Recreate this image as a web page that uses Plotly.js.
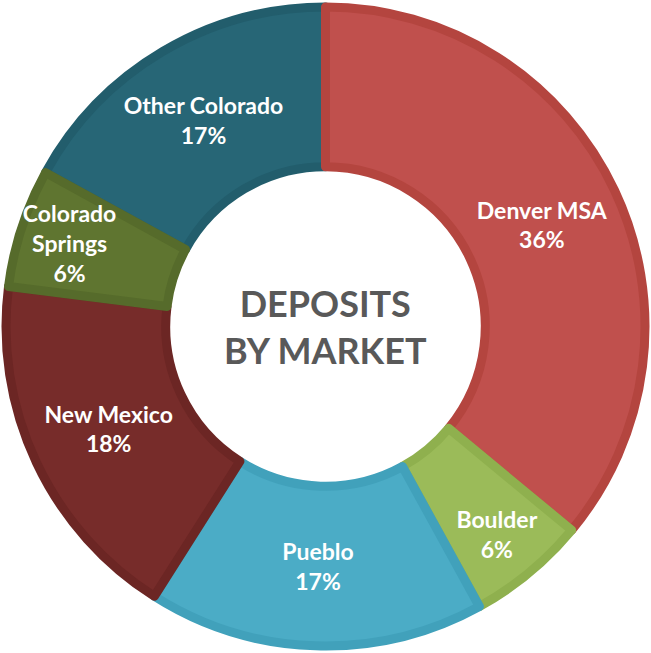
<!DOCTYPE html>
<html>
<head>
<meta charset="utf-8">
<script src="https://cdn.plot.ly/plotly-3.0.1.min.js"></script>
<style>html,body{margin:0;padding:0;background:#fff;}#chart{width:651px;height:653px;}</style>
</head>
<body>
<div id="chart"></div>
<script>
// Listed starting from the slice just left of 12 o'clock, going clockwise
const markets = ["Other Colorado", "Denver MSA", "Boulder", "Pueblo", "New Mexico", "Colorado Springs"];
const displayNames = ["Other Colorado", "Denver MSA", "Boulder", "Pueblo", "New Mexico", "Colorado<br>Springs"];
const shares = [17, 36, 6, 17, 18, 6];
const fillColors = ["#276676", "#c0504d", "#9bbb59", "#4bacc6", "#772c2a", "#5f7530"];
const edgeColors = ["#225d6c", "#b4453f", "#8fb04e", "#41a1bb", "#6c2624", "#566b2b"];
const centerTitle = "DEPOSITS<br>BY MARKET";

// Denver MSA starts at 12 o'clock, so rotate back by the first slice's share
const total = shares.reduce((a, b) => a + b, 0);
const startRotation = -shares[0] / total * 360;

const trace = {
  type: "pie",
  labels: markets,
  values: shares,
  text: displayNames,
  texttemplate: "%{text}<br>%{value}%",
  textinfo: "text",
  textposition: "inside",
  insidetextorientation: "horizontal",
  sort: false,
  direction: "clockwise",
  rotation: startRotation,
  hole: 0.5,
  marker: { colors: fillColors, line: { color: edgeColors, width: 9 } },
  textfont: { family: "Lato, 'Open Sans', sans-serif", size: 23, color: "#ffffff", weight: "bold" },
  showlegend: false,
  hoverinfo: "label+percent"
};

const layout = {
  width: 651, height: 653,
  margin: { l: 6, r: 6, t: 6, b: 6 },
  paper_bgcolor: "#ffffff",
  showlegend: false,
  uniformtext: { mode: "show", minsize: 23 },
  annotations: [{
    text: centerTitle,
    x: 0.5, y: 0.5, xref: "paper", yref: "paper",
    showarrow: false,
    font: { family: "Lato, 'Open Sans', sans-serif", size: 36, color: "#595959", weight: "bold" }
  }]
};

Plotly.newPlot("chart", [trace], layout, { displayModeBar: false, staticPlot: true });
</script>
</body>
</html>
